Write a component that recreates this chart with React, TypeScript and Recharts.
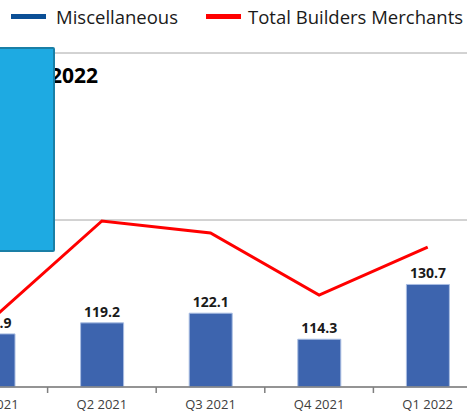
import React from "react";
import { ComposedChart, Bar, Line, XAxis, YAxis, CartesianGrid, LabelList } from "recharts";

const quarters = ["Q1 2021", "Q2 2021", "Q3 2021", "Q4 2021", "Q1 2022"];
const miscellaneous = [115.9, 119.2, 122.1, 114.3, 130.7];
const totalBuildersMerchants = [120.7, 149.7, 146.1, 127.5, 141.9];
const yTicks = [100, 150, 200, 250];
const seriesNames = ["Miscellaneous", "Total Builders Merchants"];

const data = quarters.map((q, i) => ({
  quarter: q,
  misc: miscellaneous[i],
  total: totalBuildersMerchants[i],
}));

const BAND = 108.6;

function QuarterTick(props: any) {
  const { x, y, payload } = props;
  return (
    <g>
      <line x1={x - BAND / 2} y1={y - 8} x2={x - BAND / 2} y2={y - 2} stroke="#7f7f7f" strokeWidth={1.5} />
      <text x={x} y={y + 14} textAnchor="middle" fill="#404040" fontSize={13} fontFamily="'Open Sans', sans-serif">
        {payload.value}
      </text>
    </g>
  );
}

export default function App() {
  return (
    <div style={{ position: "absolute", left: 0, top: 0, width: 467, height: 413, overflow: "hidden", background: "#fff" }}>
      <div style={{ position: "absolute", left: -61, top: -114 }}>
        <ComposedChart width={543} height={530} data={data} margin={{ top: 0, right: 0, bottom: 0, left: 0 }}>
          <CartesianGrid vertical={false} stroke="#a6a6a6" strokeWidth={1} />
          <XAxis
            dataKey="quarter"
            axisLine={{ stroke: "#7f7f7f", strokeWidth: 1.5 }}
            tickLine={false}
            tick={<QuarterTick />}
            interval={0}
            height={29}
          />
          <YAxis hide domain={[100, 250]} ticks={yTicks} />
          <Bar dataKey="misc" name={seriesNames[0]} fill="#3d64ae" stroke="#a9bde2" strokeWidth={1} barSize={43} isAnimationActive={false}>
            <LabelList
              dataKey="misc"
              position="top"
              offset={6}
              fill="#1a1a1a"
              fontSize={14}
              fontWeight="bold"
              fontFamily="'Open Sans', sans-serif"
              formatter={(v: any) => Number(v).toFixed(1)}
            />
          </Bar>
          <Line dataKey="total" name={seriesNames[1]} stroke="#ff0000" strokeWidth={3} dot={false} type="linear" isAnimationActive={false} />
        </ComposedChart>
      </div>
      <div
        style={{
          position: "absolute",
          left: 0,
          top: 60,
          width: 98,
          textAlign: "right",
          fontFamily: "'Open Sans', sans-serif",
          fontWeight: "bold",
          fontSize: 21,
          color: "#000",
          lineHeight: "30px",
          whiteSpace: "nowrap",
        }}
      >
        Q1 2022
      </div>
      <div
        style={{
          position: "absolute",
          left: -4,
          top: 47,
          width: 55,
          height: 201,
          background: "#1eaae2",
          border: "2px solid #1a7fa6",
          borderRadius: 2,
        }}
      />
      <div
        style={{
          position: "absolute",
          left: 0,
          top: 4,
          fontFamily: "'Open Sans', sans-serif",
          fontSize: 18.5,
          color: "#1a1a1a",
          whiteSpace: "nowrap",
          display: "flex",
          alignItems: "center",
          height: 24,
        }}
      >
        <span style={{ display: "inline-block", marginLeft: 11, width: 35, height: 5, background: "#0b4f96" }} />
        <span style={{ marginLeft: 10 }}>{seriesNames[0]}</span>
        <span style={{ display: "inline-block", marginLeft: 28, width: 35, height: 5, background: "#ff0000" }} />
        <span style={{ marginLeft: 7 }}>{seriesNames[1]}</span>
      </div>
    </div>
  );
}
